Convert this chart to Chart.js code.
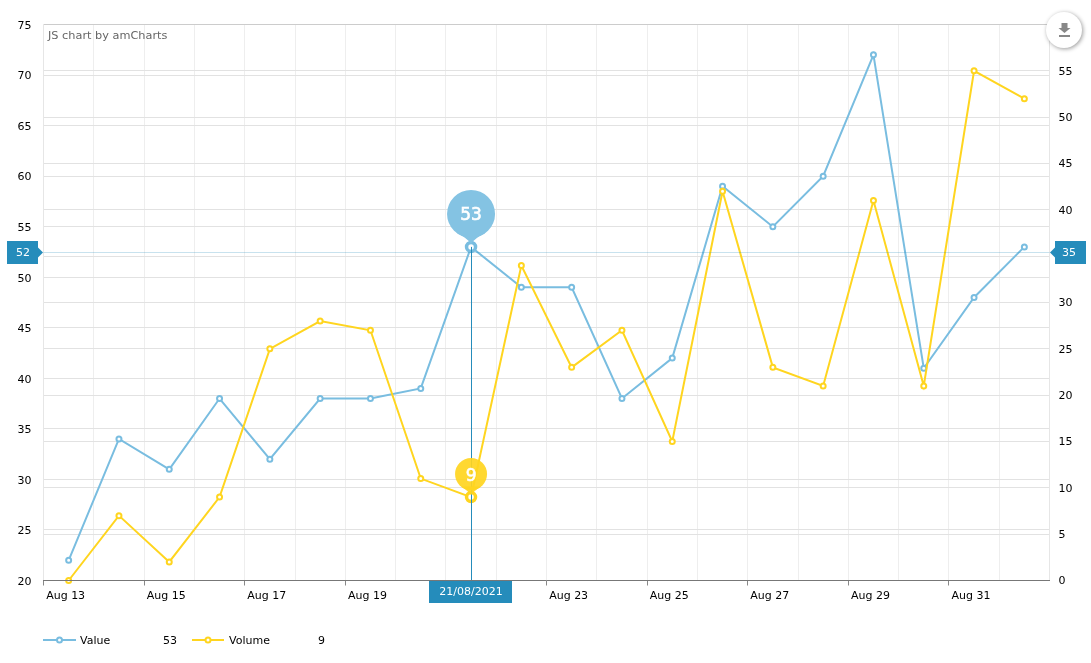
<!DOCTYPE html>
<html>
<head>
<meta charset="utf-8">
<title>Value and Volume</title>
<script src="https://cdn.jsdelivr.net/npm/chart.js@4"></script>
<style>
html, body { margin: 0; padding: 0; background: #fff; }
canvas { display: block; }
</style>
</head>
<body>
<canvas id="myChart" width="1091" height="663"></canvas>
<script>
var categories = ['Aug 13', 'Aug 14', 'Aug 15', 'Aug 16', 'Aug 17', 'Aug 18', 'Aug 19', 'Aug 20', 'Aug 21', 'Aug 22',
    'Aug 23', 'Aug 24', 'Aug 25', 'Aug 26', 'Aug 27', 'Aug 28', 'Aug 29', 'Aug 30', 'Aug 31', 'Sep 01'];
var valueSeries = [22, 34, 31, 38, 32, 38, 38, 39, 53, 49, 49, 38, 42, 59, 55, 60, 72, 41, 48, 53];
var volumeSeries = [0, 7, 2, 9, 25, 28, 27, 11, 9, 34, 23, 27, 15, 42, 23, 21, 41, 21, 55, 52];

var hoverIndex = 8;
var hoverDate = '21/08/2021';
var cursorLeft = 52;
var cursorRight = 35;
var cursorLeftAt = 52.5;

var blue = '#79bde0';
var yellow = '#ffd51f';
var cursorBlue = '#258cbb';
var font = '"DejaVu Sans", sans-serif';

function text(c, str, x, y, align, color, size) {
    c.font = (size || 11) + 'px ' + font;
    c.textAlign = align;
    c.textBaseline = 'middle';
    c.fillStyle = color;
    c.fillText(str, x, y);
}

// round balloon with a small point underneath
function balloon(c, x, cy, r, tipY, color, label, size) {
    c.save();
    c.fillStyle = color;
    c.beginPath();
    c.arc(x, cy, r, 0, Math.PI * 2);
    c.fill();
    c.beginPath();
    c.moveTo(x - r * 0.62, cy + r * 0.78);
    c.quadraticCurveTo(x - 3, cy + r + 1, x, tipY);
    c.quadraticCurveTo(x + 3, cy + r + 1, x + r * 0.62, cy + r * 0.78);
    c.closePath();
    c.fill();
    text(c, label, x, cy + 2, 'center', '#fff', size);
    // the original digits are heavier than a plain fill
    c.strokeStyle = '#fff';
    c.lineWidth = 0.6;
    c.strokeText(label, x, cy + 2);
    c.restore();
}

function legendKey(c, x0, x1, y, color) {
    c.strokeStyle = color;
    c.lineWidth = 2;
    c.beginPath();
    c.moveTo(x0, y);
    c.lineTo(x1, y);
    c.stroke();
    c.fillStyle = '#fff';
    c.beginPath();
    c.arc((x0 + x1) / 2, y, 2.5, 0, Math.PI * 2);
    c.fill();
    c.stroke();
}

var overlay = {
    id: 'overlay',
    afterDatasetsDraw: function (chart) {
        var c = chart.ctx;
        var area = chart.chartArea;
        var x = chart.scales.x.getPixelForValue(hoverIndex);
        var yV = chart.scales.y.getPixelForValue(valueSeries[hoverIndex]);
        var yW = chart.scales.y1.getPixelForValue(volumeSeries[hoverIndex]);
        var yC = Math.round(chart.scales.y.getPixelForValue(cursorLeftAt)) + 0.5;

        c.save();
        // cursor lines
        c.lineWidth = 1;
        c.strokeStyle = 'rgba(37,140,187,0.25)';
        c.beginPath();
        c.moveTo(area.left, yC);
        c.lineTo(area.right, yC);
        c.stroke();
        c.strokeStyle = cursorBlue;
        c.beginPath();
        c.moveTo(Math.round(x) + 0.5, yV);
        c.lineTo(Math.round(x) + 0.5, area.bottom);
        c.stroke();

        balloon(c, x, yV - 33, 24, yV - 3, '#84c3e3', String(valueSeries[hoverIndex]), 17);
        balloon(c, x, yW - 23, 16, yW - 2, 'rgba(255,213,31,0.92)', String(volumeSeries[hoverIndex]), 17);

        // cursor labels
        c.fillStyle = cursorBlue;
        c.fillRect(7, yC - 11.5, 31, 23);
        c.beginPath();
        c.moveTo(38, yC - 5);
        c.lineTo(43, yC);
        c.lineTo(38, yC + 5);
        c.fill();
        text(c, String(cursorLeft), 23, yC + 0.5, 'center', '#fff');

        c.fillStyle = cursorBlue;
        c.fillRect(1055, yC - 11.5, 31, 23);
        c.beginPath();
        c.moveTo(1055, yC - 5);
        c.lineTo(1050, yC);
        c.lineTo(1055, yC + 5);
        c.fill();
        text(c, String(cursorRight), 1069, yC + 0.5, 'center', '#fff');

        c.fillStyle = cursorBlue;
        c.fillRect(429, 581, 83, 22);
        text(c, hoverDate, x, 592, 'center', '#fff');

        // credit
        text(c, 'JS chart by amCharts', 48, 36, 'left', '#666', 11.3);

        // legend
        legendKey(c, 43, 76, 640, blue);
        text(c, 'Value', 80, 641, 'left', '#000');
        text(c, String(valueSeries[hoverIndex]), 177, 641, 'right', '#000');
        legendKey(c, 192, 224, 640, yellow);
        text(c, 'Volume', 229, 641, 'left', '#000');
        text(c, String(volumeSeries[hoverIndex]), 325, 641, 'right', '#000');

        // export button
        c.save();
        c.shadowColor = 'rgba(0,0,0,0.4)';
        c.shadowBlur = 4;
        c.shadowOffsetX = 1;
        c.shadowOffsetY = 1;
        c.fillStyle = '#fff';
        c.beginPath();
        c.arc(1064, 30, 18, 0, Math.PI * 2);
        c.fill();
        c.restore();
        c.fillStyle = '#888';
        c.fillRect(1061.5, 23, 6, 5);
        c.beginPath();
        c.moveTo(1058.5, 28);
        c.lineTo(1070.5, 28);
        c.lineTo(1064.5, 33);
        c.fill();
        c.fillRect(1059, 35, 11, 2);
        c.restore();
    }
};

function lineSet(label, data, color, axis, order) {
    return {
        label: label,
        data: data,
        yAxisID: axis,
        order: order,
        borderColor: color,
        backgroundColor: '#fff',
        borderWidth: 2,
        tension: 0,
        clip: false,
        pointBackgroundColor: '#fff',
        pointBorderColor: color,
        pointBorderWidth: function (ctx) { return ctx.dataIndex === hoverIndex ? 3.5 : 2; },
        pointRadius: function (ctx) { return ctx.dataIndex === hoverIndex ? 4.5 : 2.5; }
    };
}

Chart.defaults.font.family = font;
Chart.defaults.font.size = 11;
Chart.defaults.color = '#000';

var ctx = document.getElementById('myChart');
var myChart = new Chart(ctx, {
    type: 'line',
    data: {
        labels: categories,
        datasets: [
            lineSet('Value', valueSeries, blue, 'y', 2),
            lineSet('Volume', volumeSeries, yellow, 'y1', 1)
        ]
    },
    options: {
        responsive: false,
        animation: false,
        devicePixelRatio: 1,
        events: [],
        layout: { padding: { top: 24.5, left: 0, right: 0, bottom: 0 } },
        plugins: {
            legend: { display: false },
            tooltip: { enabled: false }
        },
        scales: {
            x: {
                offset: true,
                afterFit: function (axis) { axis.height = 82.5; },
                grid: {
                    offset: true,
                    color: '#eeeeee',
                    tickColor: function (c) { return c.index % 2 === 0 ? '#888' : 'rgba(0,0,0,0)'; },
                    tickLength: 5
                },
                border: { color: '#777', z: 1 },
                ticks: {
                    autoSkip: false,
                    maxRotation: 0,
                    align: 'start',
                    labelOffset: -22.5,
                    padding: 4,
                    callback: function (v, i) { return i % 2 === 0 && i < 19 ? categories[i] : ''; }
                }
            },
            y: {
                position: 'left',
                min: 20,
                max: 75,
                afterFit: function (axis) { axis.width = 43.5; },
                grid: {
                    drawTicks: false,
                    color: function (c) { return c.tick.value === 75 ? '#cccccc' : '#e2e2e2'; }
                },
                border: { color: '#e6e6e6' },
                ticks: { stepSize: 5, padding: 12, labelOffset: 1.5 }
            },
            y1: {
                position: 'right',
                min: 0,
                max: 60,
                afterFit: function (axis) { axis.width = 41.5; },
                grid: {
                    drawTicks: false,
                    color: function (c) { return c.tick.value === 60 ? '#cccccc' : '#e2e2e2'; }
                },
                border: { color: '#e6e6e6' },
                ticks: {
                    stepSize: 5,
                    padding: 9,
                    labelOffset: 1,
                    callback: function (v) { return v === 60 ? '' : v; }
                }
            }
        }
    },
    plugins: [overlay]
});
</script>
</body>
</html>
